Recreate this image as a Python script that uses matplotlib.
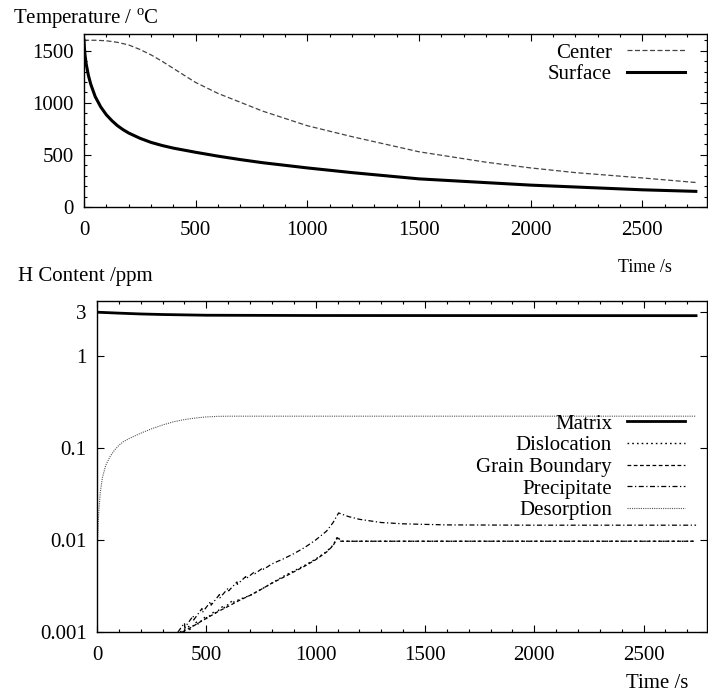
import matplotlib
matplotlib.use("Agg")
import matplotlib.pyplot as plt
from matplotlib.ticker import MultipleLocator, FixedLocator, NullLocator

plt.rcParams['font.family'] = ['Liberation Serif', 'DejaVu Serif']
plt.rcParams['mathtext.fontset'] = 'custom'
plt.rcParams['mathtext.rm'] = 'Liberation Serif'
plt.rcParams['font.size'] = 15

# temperature history (s, degC)
t_center = [0, 50, 100, 150, 200, 250, 300, 350, 400, 450, 500, 600, 700, 800, 1000, 1200, 1500,
            1800, 2000, 2200, 2500, 2740]
center = [1600, 1600, 1595, 1580, 1555, 1512, 1460, 1398, 1330, 1262, 1195, 1090, 1005, 920, 780,
          675, 530, 430, 375, 330, 279, 235]

t_surface = [0, 2, 5, 10, 20, 30, 50, 75, 100, 125, 150, 175, 200, 250, 300, 350, 400, 500, 600,
             700, 800, 1000, 1200, 1500, 2000, 2500, 2740]
surface = [1600, 1520, 1450, 1370, 1260, 1180, 1060, 960, 885, 828, 780, 742, 710, 660, 620, 590,
           565, 525, 488, 455, 425, 375, 330, 270, 210, 165, 150]

# hydrogen content (ppm)
t_matrix = [0, 100, 200, 300, 500, 1000, 2740]
matrix = [3.0, 2.93, 2.87, 2.83, 2.78, 2.76, 2.75]

t_disl = [380, 420, 422, 460, 462, 500, 502, 540, 542, 580, 582, 620, 622, 660, 700, 750, 800,
          850, 900, 950, 1000, 1050, 1080, 1100, 1115, 2740]
disl = [0.0010, 0.00115, 0.00105, 0.00132, 0.00122, 0.00150, 0.00140, 0.00170, 0.00160, 0.00195,
        0.00183, 0.0022, 0.0021, 0.0023, 0.0025, 0.0029, 0.0034, 0.0040, 0.0046, 0.0053, 0.0062,
        0.0075, 0.0088, 0.0109, 0.0097, 0.0097]

t_gb = [390, 430, 470, 510, 550, 600, 650, 700, 750, 800, 850, 900, 950, 1000, 1050, 1080, 1100, 1115, 2740]
gb = [0.0010, 0.00112, 0.00128, 0.00145, 0.00165, 0.0019, 0.0022, 0.0025, 0.0029, 0.0034, 0.0039,
      0.0045, 0.0052, 0.0061, 0.0074, 0.0087, 0.0106, 0.0097, 0.0097]

t_prec = [370, 400, 402, 440, 442, 480, 482, 520, 522, 560, 562, 600, 602, 640, 642, 680, 682, 720, 722,
          760, 762, 800, 850, 900, 950, 1000, 1050, 1080, 1105, 1150, 1200, 1300, 1400, 1600, 2000, 2740]
prec = [0.00100, 0.00125, 0.00112, 0.00150, 0.00135, 0.00180, 0.00163, 0.00215, 0.00196, 0.00255,
        0.00235, 0.00300, 0.00280, 0.0035, 0.0033, 0.0040, 0.0038, 0.0045, 0.0043, 0.0050, 0.0048,
        0.0055, 0.0062, 0.0071, 0.0083, 0.0100, 0.0125, 0.0155, 0.0197, 0.0180, 0.0168, 0.0155,
        0.0150, 0.0146, 0.0145, 0.0145]

t_desorp = [2, 8, 15, 25, 40, 60, 80, 100, 120, 150, 200, 250, 300, 350, 400, 450, 500, 550, 600, 2740]
desorp = [0.009, 0.02, 0.033, 0.048, 0.065, 0.081, 0.095, 0.107, 0.117, 0.128, 0.145, 0.162, 0.178,
          0.193, 0.204, 0.212, 0.218, 0.221, 0.222, 0.222]

fig = plt.figure(figsize=(7.08, 7.00), dpi=100)
ax1 = fig.add_axes([84/708, 1-207/700, 623/708, 173/700])
ax2 = fig.add_axes([97/708, 1-632/700, 610/708, 331.3/700])


def style_axis(ax):
    ax.tick_params(which='both', direction='in', top=True, right=True)
    ax.tick_params(which='major', length=5, width=0.8)
    ax.tick_params(which='minor', length=2.5, width=0.8)
    ax.tick_params(axis='x', which='major', pad=10)
    ax.tick_params(axis='y', which='major', pad=7.5)
    for s in ax.spines.values():
        s.set_linewidth(1.0)


leg_kw = dict(frameon=False, markerfirst=False, handlelength=2.8, handletextpad=0.7,
              borderpad=0, borderaxespad=0, labelspacing=0.1, bbox_transform=fig.transFigure,
              loc='upper right')

# top panel
ax1.plot(t_center, center, color='#444444', lw=0.9, ls=(0, (4, 2)), label='Center')
ax1.plot(t_surface, surface, color='black', lw=2.2, label='Surface')
ax1.set_xlim(0, 2790)
ax1.set_ylim(0, 1660)
ax1.xaxis.set_major_locator(MultipleLocator(500))
ax1.xaxis.set_minor_locator(MultipleLocator(100))
ax1.yaxis.set_major_locator(MultipleLocator(500))
ax1.yaxis.set_minor_locator(MultipleLocator(100))
style_axis(ax1)
ax1.legend(bbox_to_anchor=(685/708, 1-43/700), **leg_kw)

# bottom panel
ax2.plot(t_matrix, matrix, color='black', lw=2.0, label='Matrix')
ax2.plot(t_disl, disl, color='black', lw=1.0, ls=(0, (1.2, 2.2)), label='Dislocation')
ax2.plot(t_gb, gb, color='black', lw=0.9, ls=(0, (3, 2)), label='Grain Boundary')
ax2.plot(t_prec, prec, color='black', lw=0.9, ls=(0, (4, 2, 1, 2)), label='Precipitate')
ax2.plot(t_desorp, desorp, color='#555555', lw=0.8, ls=(0, (1, 1)), label='Desorption')
ax2.set_yscale('log')
ax2.set_xlim(0, 2790)
ax2.set_ylim(0.001, 4.0)
ax2.yaxis.set_major_locator(FixedLocator([0.001, 0.01, 0.1, 1, 3]))
ax2.yaxis.set_minor_locator(NullLocator())
ax2.set_yticklabels(['0.001', '0.01', '0.1', '1', '3'])
ax2.xaxis.set_major_locator(MultipleLocator(500))
ax2.xaxis.set_minor_locator(MultipleLocator(100))
style_axis(ax2)
ax2.legend(bbox_to_anchor=(685/708, 1-414/700), **leg_kw)

fig.text(13/708, 1-19/700, r'Temperature / $^{\mathrm{o}}$C', ha='left', va='center')
fig.text(672/708, 1-268/700, 'Time /s', ha='right', va='center', fontsize=13)
fig.text(18/708, 1-277/700, 'H Content /ppm', ha='left', va='center')
fig.text(688/708, 1-683/700, 'Time /s', ha='right', va='center')

fig.savefig('out.png', dpi=100)
